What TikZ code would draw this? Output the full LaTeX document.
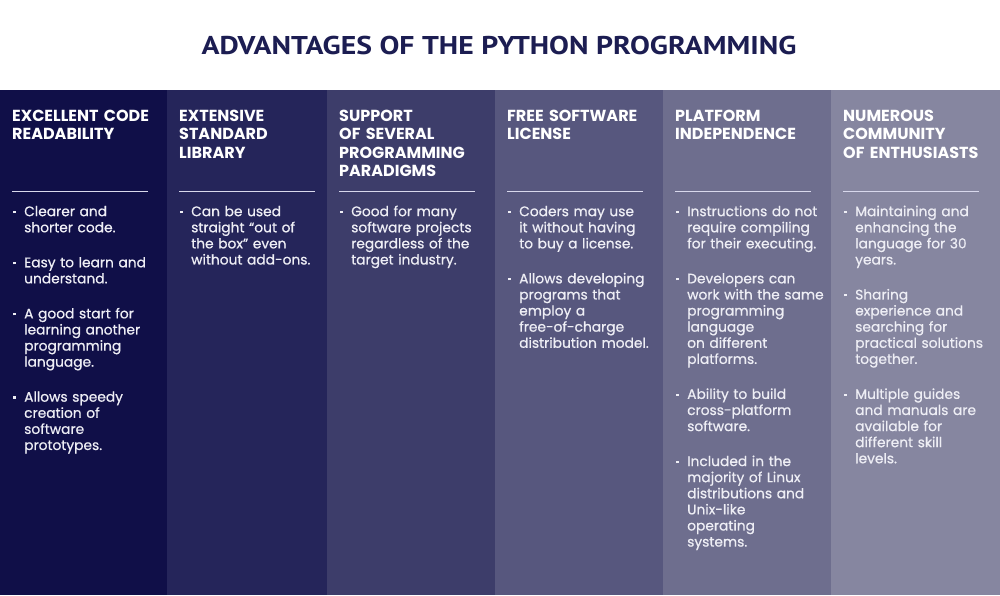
\documentclass[tikz,border=0pt]{standalone}
\usepackage{fontspec}
\newfontfamily\popfont{Poppins}
\newfontfamily\bodyfont{Poppins}[FakeBold=0.7]
\newfontfamily\titlefont{PT Sans}
\definecolor{titlecol}{HTML}{1C1D52}
\definecolor{colA}{HTML}{100F48}
\definecolor{colB}{HTML}{25255A}
\definecolor{colC}{HTML}{3D3D6A}
\definecolor{colD}{HTML}{57577E}
\definecolor{colE}{HTML}{6E6E8E}
\definecolor{colF}{HTML}{8686A0}
\definecolor{txt}{HTML}{EEEEF5}
\definecolor{sepcol}{HTML}{D8D8EC}
\newcommand\bstart{\raggedright\leftskip=12pt\parskip=18.9pt\relax}
\newcommand\bitem[1]{\noindent\llap{\makebox[12pt][l]{\hspace{1pt}\rule[3pt]{2.3pt}{2.3pt}}}\strut#1\par}
\tikzset{
  head/.style={anchor=north west,inner sep=0pt,text width=160pt,align=left,text=white,
    font=\popfont\bfseries\fontsize{16}{18.1}\selectfont},
  body/.style={anchor=north west,inner sep=0pt,text width=160pt,text=txt,
    font=\bodyfont\fontsize{13.8}{16.1}\selectfont},
  sepline/.style={draw=sepcol,line width=1.4pt},
  titlestyle/.style={anchor=base,inner sep=0pt,text=titlecol,
    font=\titlefont\bfseries\fontsize{25.7}{30}\selectfont}
}
\begin{document}
\begin{tikzpicture}[x=1pt,y=-1pt]
\useasboundingbox (0,0) rectangle (1000,595);
\fill[white] (0,0) rectangle (1000,595);
\node[titlestyle] (title) at (499,54) {\scalebox{1.156}[1]{ADVANTAGES OF THE PYTHON PROGRAMMING}};
% columns
\fill[colA] (0,90) rectangle (167,595);
\fill[colB] (167,90) rectangle (327,595);
\fill[colC] (327,90) rectangle (495,595);
\fill[colD] (495,90) rectangle (663,595);
\fill[colE] (663,90) rectangle (831,595);
\fill[colF] (831,90) rectangle (1000,595);
% headers
\node[head] (h1) at (12,109) {\strut EXCELLENT CODE\\READABILITY};
\node[head] (h2) at (179,109) {\strut EXTENSIVE\\STANDARD\\LIBRARY};
\node[head] (h3) at (339,109) {\strut SUPPORT\\OF SEVERAL\\PROGRAMMING\\PARADIGMS};
\node[head] (h4) at (507,109) {\strut FREE SOFTWARE\\LICENSE};
\node[head] (h5) at (675,109) {\strut PLATFORM\\INDEPENDENCE};
\node[head] (h6) at (843,109) {\strut NUMEROUS\\COMMUNITY\\OF ENTHUSIASTS};
% separators
\draw[sepline] (12,191.5) -- (148,191.5);
\draw[sepline] (179,191.5) -- (315,191.5);
\draw[sepline] (339,191.5) -- (475,191.5);
\draw[sepline] (507,191.5) -- (643,191.5);
\draw[sepline] (675,191.5) -- (811,191.5);
\draw[sepline] (843,191.5) -- (979,191.5);
% bodies
\node[body] (b1) at (12,204.7) {\bstart
 \bitem{Clearer and\\shorter code.}
 \bitem{Easy to learn and\\understand.}
 \bitem{A good start for\\learning another\\programming\\language.}
 \bitem{Allows speedy\\creation of\\software\\prototypes.}};
\node[body] (b2) at (179,204.7) {\bstart
 \bitem{Can be used\\straight “out of\\the box” even\\without add-ons.}};
\node[body] (b3) at (339,204.7) {\bstart
 \bitem{Good for many\\software projects\\regardless of the\\target industry.}};
\node[body] (b4) at (507,204.7) {\bstart
 \bitem{Coders may use\\it without having\\to buy a license.}
 \bitem{Allows developing\\programs that\\employ a\\free-of-charge\\distribution model.}};
\node[body] (b5) at (675,204.7) {\bstart
 \bitem{Instructions do not\\require compiling\\for their executing.}
 \bitem{Developers can\\work with the same\\programming\\language\\on different\\platforms.}
 \bitem{Ability to build\\cross-platform\\software.}
 \bitem{Included in the\\majority of Linux\\distributions and\\Unix-like\\operating\\systems.}};
\node[body] (b6) at (843,204.7) {\bstart
 \bitem{Maintaining and\\enhancing the\\language for 30\\years.}
 \bitem{Sharing\\experience and\\searching for\\practical solutions\\together.}
 \bitem{Multiple guides\\and manuals are\\available for\\different skill\\levels.}};
\end{tikzpicture}
\end{document}
